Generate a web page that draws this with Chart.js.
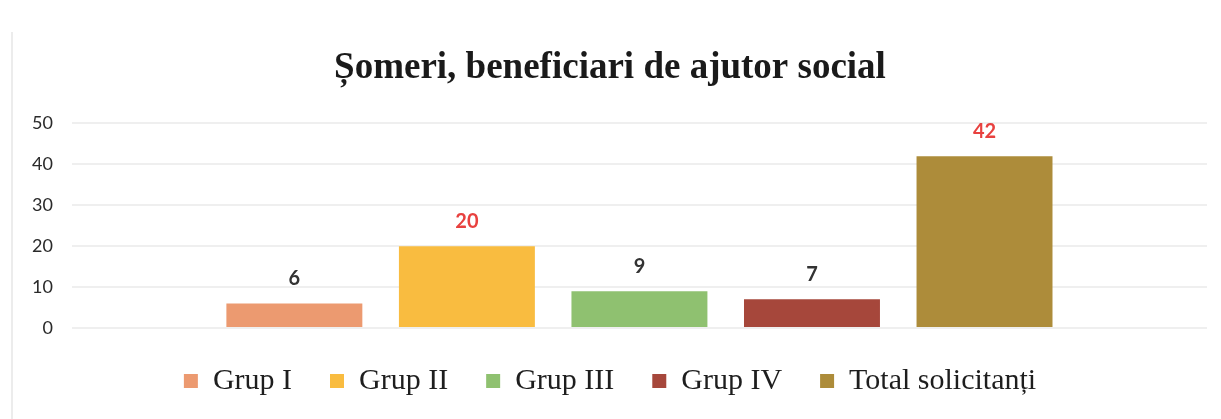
<!DOCTYPE html>
<html lang="ro">
<head>
<meta charset="UTF-8">
<title>Șomeri, beneficiari de ajutor social</title>
<script src="https://cdn.jsdelivr.net/npm/chart.js"></script>
<style>
    html, body { margin: 0; padding: 0; background: #ffffff; }
    .wrap {
        position: relative;
        width: 1221px;
        height: 419px;
    }
    .wrap::before {
        content: '';
        position: absolute;
        left: 11px;
        top: 32px;
        bottom: 0;
        width: 2px;
        background: #ececec;
    }
</style>
</head>
<body>
<div class="wrap">
    <canvas id="somChart" width="1221" height="419"></canvas>
</div>
<script>
    // grupe si valori
    const grupe = ['Grup I', 'Grup II', 'Grup III', 'Grup IV', 'Total solicitanți'];
    const valori = [6, 20, 9, 7, 42];
    const culori = ['#ec9a70', '#f9bc40', '#8fc170', '#a6473b', '#ad8c3a'];
    const culoriEtichete = ['#333333', '#e8413f', '#333333', '#333333', '#e8413f'];
    const ticksY = [0, 10, 20, 30, 40, 50];

    // fiecare grupa e o serie separata, toate pe aceeasi categorie
    const datasets = grupe.map((g, i) => ({
        label: g,
        data: [valori[i]],
        backgroundColor: culori[i],
        borderWidth: 0
    }));

    // valorile deasupra barelor
    const etichete = {
        id: 'etichete',
        afterDatasetsDraw(chart) {
            const ctx = chart.ctx;
            ctx.save();
            ctx.font = 'bold 20px Lato';
            ctx.textAlign = 'center';
            ctx.textBaseline = 'alphabetic';
            chart.data.datasets.forEach((ds, i) => {
                const bar = chart.getDatasetMeta(i).data[0];
                ctx.fillStyle = culoriEtichete[i];
                ctx.fillText(String(ds.data[0]), bar.x, bar.y - 18);
            });
            ctx.restore();
        }
    };

    new Chart(document.getElementById('somChart'), {
        type: 'bar',
        data: { labels: [''], datasets: datasets },
        plugins: [etichete],
        options: {
            responsive: false,
            animation: false,
            categoryPercentage: 0.76,
            barPercentage: 0.788,
            layout: { padding: { left: 13, right: 14, top: 46, bottom: 13 } },
            plugins: {
                title: {
                    display: true,
                    text: 'Șomeri, beneficiari de ajutor social',
                    color: '#1a1a1a',
                    font: { family: 'Liberation Serif', size: 37, weight: 'bold' },
                    padding: { top: 0, bottom: 33 }
                },
                legend: {
                    position: 'bottom',
                    labels: {
                        color: '#1e1e1e',
                        boxWidth: 14,
                        boxHeight: 14,
                        padding: 38,
                        font: { family: 'Liberation Serif', size: 30 }
                    }
                },
                tooltip: { enabled: false }
            },
            scales: {
                x: { display: false },
                y: {
                    min: 0,
                    max: 50,
                    afterBuildTicks(axis) {
                        axis.ticks = ticksY.map(v => ({ value: v }));
                    },
                    border: { display: false },
                    grid: { color: '#efefef', lineWidth: 2, drawTicks: false },
                    ticks: {
                        color: '#2a2a2a',
                        padding: 19,
                        font: { family: 'Lato', size: 18 }
                    }
                }
            }
        }
    });
</script>
</body>
</html>
